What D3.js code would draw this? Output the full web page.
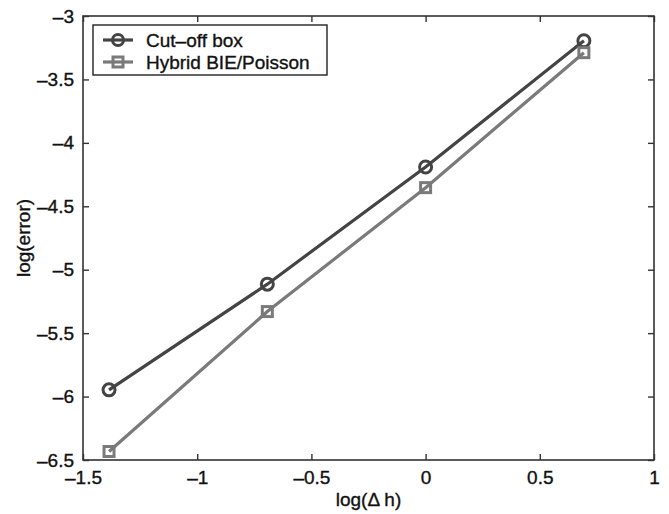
<!DOCTYPE html>
<html><head><meta charset="utf-8">
<script src="https://cdn.jsdelivr.net/npm/d3@7"></script>
<style>body{margin:0;background:#fff}svg{display:block}text{font-family:"Liberation Sans",Arial,sans-serif;fill:#111;stroke:#111;stroke-width:0.35px}</style>
</head><body><svg id="c" width="669" height="514"></svg>
<script>
const xValues = [-1.386, -0.693, 0, 0.693];
const cutoffBox = [-5.947, -5.114, -4.19, -3.195];
const hybrid = [-6.433, -5.330, -4.353, -3.289];
const seriesNames = ["Cut\u2013off box", "Hybrid BIE/Poisson"];
const xTicks = [-1.5, -1, -0.5, 0, 0.5, 1];
const yTicks = [-6.5, -6, -5.5, -5, -4.5, -4, -3.5, -3];

const svg = d3.select("#c");
const L = 83, R = 654, T = 16, B = 460;
const x = d3.scaleLinear().domain([-1.5, 1]).range([L, R]);
const y = d3.scaleLinear().domain([-6.5, -3]).range([B, T]);
const fmt = v => (v < 0 ? "\u2013" : "") + Math.abs(v);
const axisColor = "#333";

// plot box
svg.append("rect").attr("x", L).attr("y", T).attr("width", R - L).attr("height", B - T)
  .attr("fill", "#fff").attr("stroke", axisColor).attr("stroke-width", 1.6);

const fs = 19;
const gx = svg.append("g").attr("transform", `translate(0,${B})`)
  .call(d3.axisBottom(x).tickValues(xTicks).tickFormat(fmt).tickSizeInner(-6).tickSizeOuter(0).tickPadding(11));
const gxTop = svg.append("g").attr("transform", `translate(0,${T})`)
  .call(d3.axisTop(x).tickValues(xTicks).tickFormat("").tickSizeInner(-6).tickSizeOuter(0));
const gy = svg.append("g").attr("transform", `translate(${L},0)`)
  .call(d3.axisLeft(y).tickValues(yTicks).tickFormat(fmt).tickSizeInner(-6).tickSizeOuter(0).tickPadding(9));
const gyR = svg.append("g").attr("transform", `translate(${R},0)`)
  .call(d3.axisRight(y).tickValues(yTicks).tickFormat("").tickSizeInner(-6).tickSizeOuter(0));
[gx, gxTop, gy, gyR].forEach(g => {
  g.select(".domain").remove();
  g.selectAll(".tick line").attr("stroke", axisColor).attr("stroke-width", 1.4);
  g.selectAll("text").attr("font-size", fs).attr("fill", "#111")
    .style("font-family", '"Liberation Sans",Arial,sans-serif');
});

// axis labels
svg.append("text").attr("x", (L + R) / 2).attr("y", 506).attr("text-anchor", "middle")
  .attr("font-size", fs).text("log(\u0394 h)");
svg.append("text").attr("transform", `translate(30,${(T + B) / 2}) rotate(-90)`)
  .attr("text-anchor", "middle").attr("font-size", fs).text("log(error)");

const colors = ["#444", "#7a7a7a"];
const data = [cutoffBox, hybrid];
const line = d3.line().x((d, i) => x(xValues[i])).y(d => y(d));

data.forEach((s, k) => {
  svg.append("path").datum(s).attr("d", line).attr("fill", "none")
    .attr("stroke", colors[k]).attr("stroke-width", 3.2);
});
data.forEach((s, k) => {
  const g = svg.append("g");
  s.forEach((v, i) => {
    if (k === 0) {
      g.append("circle").attr("cx", x(xValues[i])).attr("cy", y(v)).attr("r", 6)
        .attr("fill", "none").attr("stroke", colors[k]).attr("stroke-width", 3);
    } else {
      g.append("rect").attr("x", x(xValues[i]) - 5).attr("y", y(v) - 5).attr("width", 10).attr("height", 10)
        .attr("fill", "none").attr("stroke", colors[k]).attr("stroke-width", 3);
    }
  });
});

// legend
const lg = svg.append("g");
lg.append("rect").attr("x", 93).attr("y", 25).attr("width", 234).attr("height", 50)
  .attr("fill", "#fff").attr("stroke", "#222").attr("stroke-width", 1.4);
seriesNames.forEach((name, k) => {
  const cy = 40 + k * 22;
  lg.append("line").attr("x1", 103).attr("x2", 133).attr("y1", cy).attr("y2", cy)
    .attr("stroke", colors[k]).attr("stroke-width", 3.2);
  if (k === 0) {
    lg.append("circle").attr("cx", 118).attr("cy", cy).attr("r", 5.5).attr("fill", "none")
      .attr("stroke", colors[k]).attr("stroke-width", 3);
  } else {
    lg.append("rect").attr("x", 113).attr("y", cy - 5).attr("width", 10).attr("height", 10)
      .attr("fill", "none").attr("stroke", colors[k]).attr("stroke-width", 3);
  }
  lg.append("text").attr("x", 146).attr("y", cy + 7).attr("font-size", fs).text(name);
});
</script></body></html>
